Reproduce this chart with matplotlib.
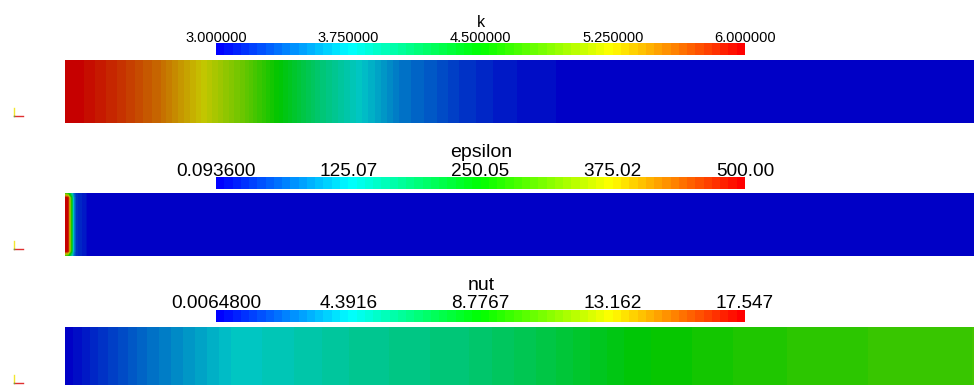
import numpy as np
import matplotlib.pyplot as plt
from matplotlib.colors import ListedColormap, Normalize, hsv_to_rgb
from matplotlib.cm import ScalarMappable
from matplotlib.transforms import offset_copy

W, H = 974, 385

# channel profiles, x in m along the 10 m section
x_k = [0.0, 0.17, 0.6, 1.05, 1.5, 1.95, 2.35, 2.8, 3.27, 3.53, 3.69, 3.87, 4.09,
       4.35, 4.71, 4.97, 5.39, 5.5, 10.0]
k_vals = [6.0, 5.97, 5.80, 5.58, 5.25, 4.90, 4.50, 4.08, 3.75, 3.57, 3.46, 3.40, 3.33,
          3.23, 3.14, 3.094, 3.05, 3.02, 3.0]

x_eps = [0.0, 0.03, 0.06, 0.08, 0.09, 0.12, 0.23, 0.25, 10.0]
eps_core = [500.0, 490.0, 300.0, 190.0, 100.0, 35.0, 15.0, 0.0936, 0.0936]
eps_wall = [260.0, 240.0, 170.0, 120.0, 80.0, 35.0, 15.0, 0.0936, 0.0936]
y_eps = [0.0, 0.08, 0.92, 1.0]

x_nut = [0.0, 0.39, 0.94, 1.49, 1.82, 2.59, 3.14, 4.44, 5.33, 6.28, 6.72, 7.07, 8.17, 9.70, 10.0]
nut_vals = [0.00648, 1.17, 2.56, 3.69, 4.39, 5.0, 5.5, 6.3, 7.3, 8.7, 8.9, 9.2, 9.7, 10.1, 10.15]

k_range = (3.0, 6.0)
eps_range = (0.0936, 500.0)
nut_range = (0.00648, 17.547)

k_labels = ["3.000000", "3.750000", "4.500000", "5.250000", "6.000000"]
eps_labels = ["0.093600", "125.07", "250.05", "375.02", "500.00"]
nut_labels = ["0.0064800", "4.3916", "8.7767", "13.162", "17.547"]

# blue-to-red rainbow (hsv), 64 table values
hues = np.linspace(2 / 3, 0, 64)
rgb = hsv_to_rgb(np.column_stack([hues, np.ones(64), np.ones(64)]))
cmap_bar = ListedColormap(rgb)
cmap_surf = ListedColormap(rgb * 0.775)  # lit surface is darker

plt.rcParams['font.family'] = ['Liberation Sans', 'DejaVu Sans']

fig = plt.figure(figsize=(W / 100, H / 100), dpi=100)


def px_axes(x0, y0, x1, y1, **kw):
    return fig.add_axes([x0 / W, 1 - y1 / H, (x1 - x0) / W, (y1 - y0) / H], **kw)


def strip(top, x, y, Z, vrange):
    ax = px_axes(65, top, 974, top + 63)
    levels = np.linspace(vrange[0], vrange[1], 65)
    ax.contourf(x, y, Z, levels=levels, cmap=cmap_surf)
    ax.set_xlim(0, 10)
    ax.set_ylim(0, 1)
    ax.axis('off')
    return ax


def bar(top, vrange, labels, title, lsize, tsize, tgap):
    cax = px_axes(216, top, 745, top + 12)
    norm = Normalize(*vrange)
    cb = fig.colorbar(ScalarMappable(norm=norm, cmap=cmap_bar), cax=cax,
                      orientation='horizontal')
    cb.outline.set_visible(False)
    cax.set_xticks([])
    ticks = np.linspace(vrange[0], vrange[1], 5)
    tr = offset_copy(cax.get_xaxis_transform(), fig=fig, y=1.5, units='dots')
    for t, lab in zip(ticks, labels):
        cax.text(t, 1.0, lab, transform=tr, ha='center', va='baseline',
                 fontsize=lsize, color='black')
    fig.text(481 / W, 1 - (top - tgap) / H, title, ha='center', va='baseline',
             fontsize=tsize, color='black')


def triad(top):
    ov = fig.add_axes([0, 0, 1, 1], zorder=5)
    ov.set_xlim(0, W)
    ov.set_ylim(H, 0)
    ov.axis('off')
    ov.plot([13.5, 13.5], [top + 48, top + 55], color='#f2e630', lw=1.0)
    ov.plot([14, 23], [top + 55.5, top + 55.5], color='#e03030', lw=1.0)
    ov.plot([13.5], [top + 55.5], 's', color='#60b040', ms=1.0, mew=0)


strip(60, x_k, [0, 1], np.vstack([k_vals, k_vals]), k_range)
strip(193, x_eps, y_eps, np.vstack([eps_wall, eps_core, eps_core, eps_wall]), eps_range)
strip(327, x_nut, [0, 1], np.vstack([nut_vals, nut_vals]), nut_range)

bar(43, k_range, k_labels, "k", 10.5, 11.5, 16)
bar(177, eps_range, eps_labels, "epsilon", 13.7, 14, 20)
bar(310, nut_range, nut_labels, "nut", 13.7, 14, 20)

for top in (60, 193, 327):
    triad(top)

fig.savefig("out.png", dpi=100)
